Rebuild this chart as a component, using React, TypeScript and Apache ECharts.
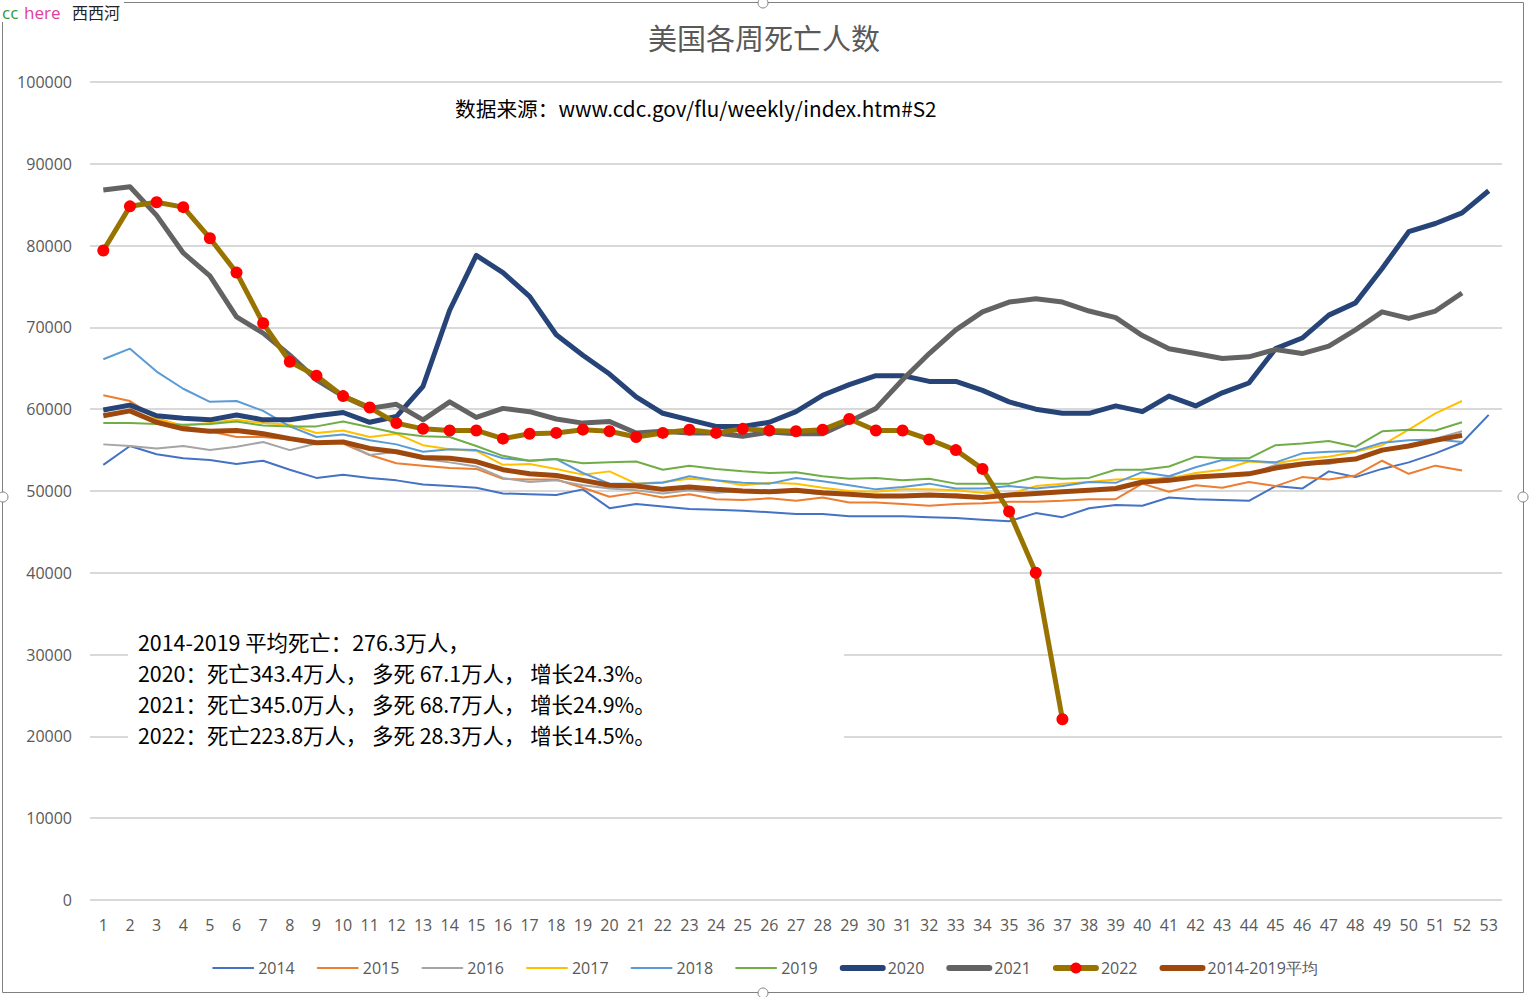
import React, { useEffect, useRef } from "react";
import * as echarts from "echarts";

const weeks = Array.from({ length: 53 }, (_, i) => String(i + 1));

const y2014 = [53200, 55500, 54500, 54000, 53800, 53300, 53700, 52600, 51600, 52000, 51600, 51300, 50800, 50600, 50400, 49700, 49600, 49500, 50200, 47900, 48400, 48100, 47800, 47700, 47600, 47400, 47200, 47200, 46900, 46900, 46900, 46800, 46700, 46500, 46300, 47300, 46800, 47900, 48300, 48200, 49200, 49000, 48900, 48800, 50600, 50300, 52400, 51700, 52700, 53500, 54600, 55900, 59300];
const y2015 = [61700, 61000, 58900, 57900, 57300, 56600, 56600, 56300, 55900, 55800, 54400, 53400, 53100, 52800, 52700, 51500, 51400, 51400, 50400, 49300, 49800, 49200, 49600, 49000, 48900, 49100, 48800, 49200, 48600, 48600, 48400, 48200, 48400, 48500, 48700, 48700, 48800, 49000, 49000, 50900, 49900, 50700, 50400, 51100, 50600, 51700, 51400, 51900, 53700, 52100, 53100, 52500];
const y2016 = [55700, 55500, 55200, 55500, 55000, 55400, 56000, 55000, 55800, 56000, 54400, 54800, 53900, 53500, 53000, 51600, 51100, 51300, 50700, 50300, 50100, 49700, 50100, 49800, 50000, 49800, 49900, 49600, 49500, 49300, 49500, 49400, 49600, 49300, 49500, 49800, 50000, 50200, 50300, 51200, 51700, 51800, 51900, 52000, 53200, 53400, 53300, 54000, 55000, 55600, 56400, 57300];
const y2017 = [59900, 60700, 58800, 58000, 58300, 58700, 58300, 58100, 57100, 57400, 56600, 57000, 55600, 55100, 54900, 53200, 53300, 52700, 52000, 52400, 50900, 51100, 51500, 51300, 50700, 51000, 50900, 50400, 50000, 49900, 50200, 50200, 50100, 49800, 49600, 50600, 50900, 51100, 51400, 51500, 51500, 52200, 52600, 53600, 53400, 53900, 54200, 54800, 55600, 57500, 59500, 61000];
const y2018 = [66100, 67400, 64600, 62500, 60900, 61000, 59800, 57900, 56600, 56900, 56200, 55700, 54800, 55100, 55000, 54000, 53700, 53900, 52200, 50900, 50900, 51000, 51800, 51300, 51000, 50900, 51600, 51200, 50700, 50200, 50500, 50900, 50300, 50300, 50600, 50300, 50600, 51100, 51000, 52300, 51800, 52900, 53800, 53700, 53500, 54600, 54800, 54900, 55900, 56200, 56300, 56000];
const y2019 = [58300, 58300, 58200, 58100, 58200, 58500, 58000, 57900, 57900, 58500, 57800, 57100, 56700, 56600, 55500, 54300, 53700, 53900, 53400, 53500, 53600, 52600, 53100, 52700, 52400, 52200, 52300, 51800, 51500, 51600, 51300, 51500, 50900, 50900, 50900, 51700, 51500, 51600, 52600, 52600, 53000, 54200, 54000, 54000, 55600, 55800, 56100, 55400, 57300, 57500, 57400, 58400];
const y2020 = [59900, 60500, 59200, 58900, 58700, 59300, 58700, 58700, 59200, 59600, 58400, 59100, 62800, 72100, 78800, 76700, 73800, 69100, 66600, 64300, 61500, 59500, 58700, 57900, 57900, 58400, 59700, 61700, 63000, 64100, 64100, 63400, 63400, 62300, 60900, 60000, 59500, 59500, 60400, 59700, 61600, 60400, 62000, 63200, 67400, 68700, 71500, 73000, 77200, 81700, 82700, 84000, 86700];
const y2021 = [86800, 87200, 83700, 79100, 76300, 71300, 69300, 66600, 63600, 61600, 60100, 60600, 58700, 60900, 59000, 60100, 59700, 58800, 58300, 58500, 57100, 57300, 57100, 57100, 56700, 57200, 57000, 57000, 58500, 60100, 63600, 66800, 69700, 71900, 73100, 73500, 73100, 72000, 71200, 69000, 67400, 66800, 66200, 66400, 67300, 66800, 67700, 69700, 71900, 71100, 72000, 74200];
const y2022 = [79400, 84800, 85300, 84700, 80900, 76700, 70500, 65800, 64100, 61600, 60200, 58300, 57600, 57400, 57400, 56400, 57000, 57100, 57500, 57300, 56600, 57100, 57500, 57100, 57600, 57400, 57300, 57500, 58800, 57400, 57400, 56300, 55000, 52700, 47500, 40000, 22100];
const yAvg = [59200, 59800, 58400, 57600, 57300, 57400, 57000, 56400, 55900, 56000, 55200, 54800, 54100, 54000, 53600, 52600, 52100, 51900, 51300, 50700, 50600, 50200, 50500, 50200, 50000, 49900, 50100, 49800, 49600, 49400, 49400, 49500, 49400, 49200, 49500, 49700, 49900, 50100, 50300, 51100, 51300, 51700, 51900, 52100, 52800, 53300, 53600, 53900, 55000, 55500, 56200, 56800];

const seriesNames = ["2014", "2015", "2016", "2017", "2018", "2019", "2020", "2021", "2022", "2014-2019平均"];
const seriesColors = ["#4472C4", "#ED7D31", "#A5A5A5", "#FFC000", "#5B9BD5", "#70AD47", "#264478", "#636363", "#997300", "#9E480E"];
const seriesData = [y2014, y2015, y2016, y2017, y2018, y2019, y2020, y2021, y2022, yAvg];
const seriesWidths = [2, 2, 2, 2, 2, 2, 5, 5, 5, 5];

const titleText = "美国各周死亡人数";
const sourceText = "数据来源：www.cdc.gov/flu/weekly/index.htm#S2";
const noteLines = [
  "2014-2019 平均死亡：276.3万人，",
  "2020：死亡343.4万人， 多死 67.1万人， 增长24.3%。",
  "2021：死亡345.0万人， 多死 68.7万人， 增长24.9%。",
  "2022：死亡223.8万人， 多死 28.3万人， 增长14.5%。",
];

const CJK = '"Noto Sans CJK SC", "Noto Sans", sans-serif';
const LAT = '"Open Sans", "Noto Sans", sans-serif';

export default function App() {
  const ref = useRef<HTMLDivElement>(null);
  useEffect(() => {
    document.body.style.margin = "0";
    const chart = echarts.init(ref.current!, undefined, { renderer: "svg" });
    const series: any[] = seriesNames.map((name, i) => {
      const is22 = name === "2022";
      return {
        name,
        type: "line",
        data: seriesData[i],
        symbol: is22 ? "circle" : "none",
        symbolSize: is22 ? 12 : 0,
        showSymbol: is22,
        itemStyle: { color: is22 ? "#FF0000" : seriesColors[i] },
        lineStyle: { color: seriesColors[i], width: seriesWidths[i], join: "round" },
        z: 2 + i,
      };
    });
    const legendData = seriesNames.map((name, i) => {
      const is22 = name === "2022";
      return {
        name,
        itemStyle: is22 ? { color: "#FF0000", opacity: 1 } : { opacity: 0 },
        lineStyle: { color: seriesColors[i], width: seriesWidths[i] === 5 ? 6 : 2, cap: "round" },
      };
    });
    const logoParts = [
      { text: "cc", x: 2, color: "#2f9a3a", font: LAT, size: 17 },
      { text: "here", x: 24, color: "#e0409a", font: LAT, size: 17 },
      { text: "西西河", x: 72, color: "#222222", font: CJK, size: 16 },
    ];
    const graphic: any[] = [
      {
        type: "rect",
        shape: { x: 2.5, y: 2.5, width: 1521, height: 990 },
        style: { fill: "none", stroke: "#808080", lineWidth: 1 },
        silent: true,
        z: 1,
      },
      {
        type: "rect",
        shape: { x: 0, y: 0, width: 124, height: 22 },
        style: { fill: "#ffffff" },
        z: 5,
      },
      ...logoParts.map((p) => ({
        type: "text",
        x: p.x,
        y: 12,
        z: 6,
        style: {
          text: p.text,
          fill: p.color,
          fontSize: p.size,
          fontFamily: p.font,
          align: "left",
          textAlign: "left",
          verticalAlign: "middle",
          textVerticalAlign: "middle",
        },
      })),
      ...[
        [3, 497],
        [1523, 497],
        [763, 3],
        [763, 993],
      ].map(([cx, cy]) => ({
        type: "circle",
        shape: { cx, cy, r: 5 },
        style: { fill: "#ffffff", stroke: "#808080", lineWidth: 1 },
        z: 7,
      })),
      {
        type: "text",
        x: 764,
        y: 37,
        z: 6,
        style: {
          text: titleText,
          fill: "#595959",
          fontSize: 29,
          fontFamily: CJK,
          align: "center",
          textAlign: "center",
          verticalAlign: "middle",
          textVerticalAlign: "middle",
        },
      },
      {
        type: "text",
        x: 455,
        y: 108,
        z: 6,
        style: {
          text: sourceText,
          fill: "#000000",
          fontSize: 20.7,
          fontFamily: CJK,
          align: "left",
          textAlign: "left",
          verticalAlign: "middle",
          textVerticalAlign: "middle",
        },
      },
      {
        type: "rect",
        shape: { x: 128, y: 623, width: 716, height: 128 },
        style: { fill: "#ffffff" },
        z: 8,
      },
      ...noteLines.map((t, i) => ({
        type: "text",
        x: 138,
        y: 641 + i * 31,
        z: 9,
        style: {
          text: t,
          fill: "#000000",
          fontSize: 21.4,
          fontFamily: CJK,
          align: "left",
          textAlign: "left",
          verticalAlign: "middle",
          textVerticalAlign: "middle",
        },
      })),
    ];
    chart.setOption({
      animation: false,
      backgroundColor: "#ffffff",
      grid: { left: 90, right: 28, top: 82, bottom: 97, containLabel: false },
      legend: {
        data: legendData,
        left: "center",
        top: 955,
        itemWidth: 40,
        itemHeight: 14,
        itemGap: 22,
        textStyle: { color: "#595959", fontSize: 16, fontFamily: LAT },
      },
      xAxis: {
        type: "category",
        data: weeks,
        boundaryGap: true,
        axisLine: { show: false },
        axisTick: { show: false },
        axisLabel: { color: "#595959", fontSize: 16, fontFamily: LAT, margin: 17, interval: 0 },
      },
      yAxis: {
        type: "value",
        min: 0,
        max: 100000,
        interval: 10000,
        axisLine: { show: false },
        axisTick: { show: false },
        axisLabel: {
          color: "#595959",
          fontSize: 16,
          fontFamily: LAT,
          margin: 18,
          formatter: (v: number) => String(v),
        },
        splitLine: { lineStyle: { color: "#d9d9d9", width: 2 } },
      },
      series,
      graphic,
    });
    return () => chart.dispose();
  }, []);
  return <div ref={ref} style={{ width: 1530, height: 997 }} />;
}
